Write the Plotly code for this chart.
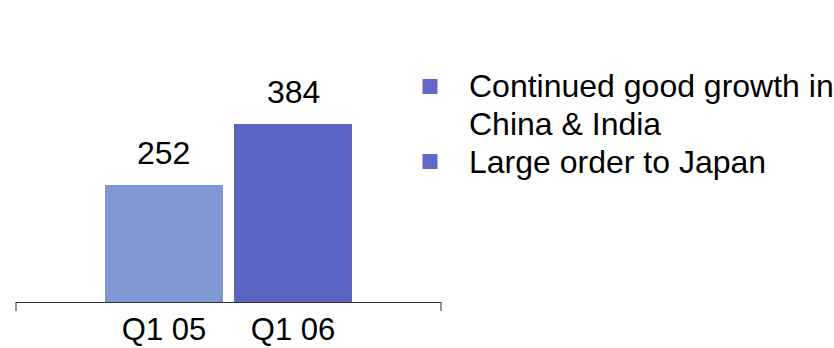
import plotly.graph_objects as go

# Quarterly values
categories = ["Q1 05", "Q1 06"]
values = [252, 384]
bar_colors = ["#7f97d3", "#5b63c3"]

# Commentary bullets (each entry is a list of lines)
bullets = [
    ["Continued good growth in", "China & India"],
    ["Large order to Japan"],
]

W, H = 834, 348
ML, MR, MT, MB = 16, 393, 0, 46
PW, PH = W - ML - MR, H - MT - MB


def px_x(px):
    return (px - ML) / PW


def px_y(py):
    return (H - MB - py) / PH


FONT = "Liberation Sans, Arial, Helvetica, sans-serif"

fig = go.Figure()
fig.add_trace(go.Bar(
    x=categories,
    y=values,
    marker=dict(color=bar_colors, line=dict(width=0)),
    width=0.915,
    hoverinfo="skip",
))

# Value labels above each bar
for cat, val in zip(categories, values):
    fig.add_annotation(
        x=cat, y=val, text=str(val), showarrow=False,
        xanchor="center", yanchor="bottom", yshift=12,
        font=dict(family=FONT, size=32, color="#000000"),
    )

# End ticks of the baseline
for xp in (0, 1):
    fig.add_shape(
        type="line", xref="paper", yref="paper",
        x0=xp, x1=xp, y0=0, y1=px_y(311),
        line=dict(color="#333333", width=1),
    )

# Bulleted commentary
line_pitch = 37.5
row = 0
for lines in bullets:
    cy = 86.5 + row * line_pitch
    fig.add_shape(
        type="rect", xref="paper", yref="paper",
        x0=px_x(422.5), x1=px_x(437.5), y0=px_y(cy - 7.5), y1=px_y(cy + 7.5),
        fillcolor="#6168c6", line=dict(width=0),
    )
    for ln in lines:
        yc = 86.5 + row * line_pitch
        fig.add_annotation(
            xref="paper", yref="paper", x=px_x(467), y=px_y(yc),
            text=ln, showarrow=False, xanchor="left", yanchor="middle",
            font=dict(family=FONT, size=32, color="#000000"),
        )
        row += 1

fig.update_layout(
    width=W, height=H,
    margin=dict(l=ML, r=MR, t=MT, b=MB, pad=0),
    paper_bgcolor="white", plot_bgcolor="white",
    showlegend=False,
    bargap=0,
    xaxis=dict(
        type="category", range=[-1.147, 2.147],
        showline=True, linecolor="#333333", linewidth=1,
        ticks="", showgrid=False, zeroline=False,
        tickfont=dict(family=FONT, size=31, color="#000000"),
        fixedrange=True,
    ),
    yaxis=dict(
        range=[0, 653], visible=False, showgrid=False, zeroline=False,
        fixedrange=True,
    ),
)

fig.write_html("out.html", config={"displayModeBar": False})
